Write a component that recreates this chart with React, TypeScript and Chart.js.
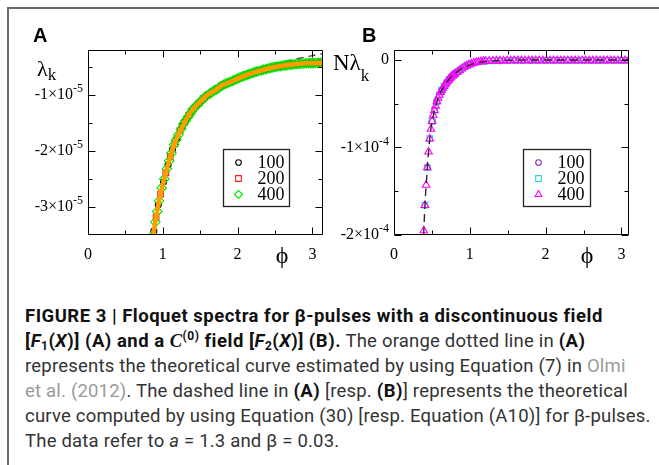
import React, { useEffect, useRef } from 'react';
import { Chart, registerables } from 'chart.js';

Chart.register(...registerables);

// ---------------- Panel A data (lambda_k in units of 1e-5) ----------------
const phiA100 = [0.88, 0.94, 1.01, 1.07, 1.13, 1.19, 1.26, 1.32, 1.38, 1.45, 1.51, 1.57, 1.63, 1.70, 1.76, 1.82, 1.88, 1.95, 2.01, 2.07, 2.14, 2.20, 2.26, 2.32, 2.39, 2.45, 2.51, 2.58, 2.64, 2.70, 2.76, 2.83, 2.89, 2.95, 3.02, 3.08, 3.14];
const lamA100 = [-3.43, -2.96, -2.55, -2.25, -1.97, -1.77, -1.56, -1.42, -1.30, -1.19, -1.11, -1.03, -0.98, -0.92, -0.86, -0.81, -0.78, -0.74, -0.70, -0.67, -0.64, -0.61, -0.58, -0.56, -0.54, -0.52, -0.50, -0.49, -0.47, -0.46, -0.455, -0.445, -0.44, -0.435, -0.433, -0.431, -0.43];

const phiA200 = [0.91, 0.97, 1.04, 1.10, 1.16, 1.23, 1.29, 1.35, 1.41, 1.48, 1.54, 1.60, 1.67, 1.73, 1.79, 1.85, 1.92, 1.98, 2.04, 2.11, 2.17, 2.23, 2.29, 2.36, 2.42, 2.48, 2.54, 2.61, 2.67, 2.73, 2.80, 2.86, 2.92, 2.98, 3.05, 3.11];
const lamA200 = [-3.18, -2.77, -2.39, -2.10, -1.87, -1.64, -1.49, -1.36, -1.25, -1.15, -1.07, -1.00, -0.94, -0.89, -0.83, -0.80, -0.76, -0.72, -0.69, -0.65, -0.62, -0.595, -0.57, -0.55, -0.53, -0.51, -0.495, -0.48, -0.465, -0.457, -0.45, -0.442, -0.437, -0.434, -0.432, -0.43];

const phiA400 = [0.87, 0.90, 0.925, 0.95, 0.985, 1.02, 1.055, 1.085, 1.115, 1.15, 1.18, 1.21, 1.245, 1.275, 1.305, 1.34, 1.37, 1.40, 1.43, 1.46, 1.49, 1.525, 1.555, 1.585, 1.62, 1.65, 1.68, 1.71, 1.745, 1.775, 1.81, 1.84, 1.87, 1.90, 1.935, 1.965, 2.0, 2.03, 2.06, 2.09, 2.125, 2.155, 2.19, 2.22, 2.25, 2.28, 2.315, 2.345, 2.38, 2.41, 2.44, 2.47, 2.505, 2.535, 2.57, 2.60, 2.63, 2.66, 2.695, 2.725, 2.76, 2.79, 2.82, 2.85, 2.885, 2.915, 2.95, 2.98, 3.01, 3.04, 3.075, 3.105, 3.14];
const lamA400 = [-3.50, -3.27, -3.08, -2.89, -2.66, -2.50, -2.32, -2.18, -2.04, -1.89, -1.80, -1.71, -1.61, -1.52, -1.46, -1.39, -1.33, -1.26, -1.22, -1.18, -1.14, -1.09, -1.05, -1.02, -0.985, -0.96, -0.93, -0.91, -0.88, -0.85, -0.82, -0.80, -0.785, -0.77, -0.75, -0.73, -0.71, -0.69, -0.675, -0.66, -0.645, -0.63, -0.615, -0.60, -0.585, -0.575, -0.565, -0.55, -0.54, -0.53, -0.52, -0.51, -0.50, -0.495, -0.49, -0.48, -0.475, -0.47, -0.465, -0.46, -0.455, -0.45, -0.446, -0.443, -0.44, -0.437, -0.435, -0.434, -0.433, -0.432, -0.431, -0.43, -0.43];

// orange dotted theoretical curve (Olmi et al. 2012)
const phiOrange = [0.87, 0.9, 0.95, 1.0, 1.05, 1.1, 1.15, 1.2, 1.3, 1.4, 1.5, 1.6, 1.7, 1.8, 1.9, 2.0, 2.2, 2.4, 2.6, 2.8, 3.0, 3.14];
const lamOrange = [-3.52, -3.27, -2.89, -2.60, -2.34, -2.11, -1.89, -1.74, -1.47, -1.26, -1.12, -1.00, -0.92, -0.825, -0.77, -0.71, -0.61, -0.535, -0.48, -0.448, -0.433, -0.43];

// dashed theoretical curve, Eq. (30)
const phiDashA = [0.87, 0.95, 1.0, 1.1, 1.2, 1.3, 1.4, 1.5, 1.6, 1.8, 2.0, 2.2, 2.4, 2.6, 2.8, 3.0, 3.14];
const lamDashA = [-3.52, -2.89, -2.60, -2.11, -1.74, -1.47, -1.26, -1.11, -0.98, -0.80, -0.68, -0.57, -0.48, -0.41, -0.355, -0.30, -0.265];

// ---------------- Panel B data (N*lambda_k in units of 1e-4) ----------------
const phiB100 = [0.440, 0.503, 0.565, 0.628, 0.691, 0.754, 0.817, 0.880, 0.942, 1.005, 1.2, 1.4, 1.6, 1.8, 2.0, 2.2, 2.4, 2.6, 2.8, 3.0];
const lamB100 = [-1.23, -0.70, -0.475, -0.345, -0.26, -0.195, -0.15, -0.11, -0.075, -0.048, -0.014, -0.008, -0.006, -0.006, -0.006, -0.006, -0.006, -0.006, -0.006, -0.006];

const phiB200 = [0.408, 0.440, 0.471, 0.503, 0.534, 0.565, 0.597, 0.628, 0.660, 0.691, 0.723, 0.754, 0.785, 0.817, 0.848, 0.880, 0.911, 0.942, 0.974, 1.005, 1.1, 1.2, 1.3, 1.4, 1.5, 1.6, 1.7, 1.8, 1.9, 2.0, 2.1, 2.2, 2.3, 2.4, 2.5, 2.6, 2.7, 2.8, 2.9, 3.0, 3.1];
const lamB200 = [-1.66, -1.23, -0.90, -0.70, -0.575, -0.475, -0.40, -0.345, -0.30, -0.26, -0.225, -0.195, -0.17, -0.15, -0.13, -0.11, -0.09, -0.075, -0.06, -0.048, -0.025, -0.014, -0.01, -0.008, -0.007, -0.006, -0.006, -0.006, -0.006, -0.006, -0.006, -0.006, -0.006, -0.006, -0.006, -0.006, -0.006, -0.006, -0.006, -0.006, -0.006];

const phiB400 = [0.393, 0.408, 0.424, 0.440, 0.456, 0.471, 0.487, 0.503, 0.518, 0.534, 0.550, 0.565, 0.581, 0.597, 0.613, 0.628, 0.644, 0.660, 0.675, 0.691, 0.707, 0.723, 0.738, 0.754, 0.770, 0.785, 0.801, 0.832, 0.864, 0.895, 0.927, 0.958, 0.990, 1.021, 1.052, 1.084, 1.115, 1.147, 1.178, 1.210, 1.257, 1.304, 1.351, 1.398, 1.445, 1.492, 1.539, 1.586, 1.634, 1.681, 1.728, 1.775, 1.822, 1.869, 1.916, 1.963, 2.011, 2.058, 2.105, 2.152, 2.199, 2.246, 2.293, 2.341, 2.388, 2.435, 2.482, 2.529, 2.576, 2.623, 2.670, 2.718, 2.765, 2.812, 2.859, 2.906, 2.953, 3.000, 3.047, 3.094];
const lamB400 = [-1.95, -1.66, -1.43, -1.23, -1.05, -0.90, -0.79, -0.70, -0.63, -0.575, -0.525, -0.475, -0.435, -0.40, -0.37, -0.345, -0.32, -0.30, -0.28, -0.26, -0.24, -0.225, -0.21, -0.195, -0.18, -0.17, -0.16, -0.14, -0.12, -0.10, -0.08, -0.065, -0.052, -0.042, -0.034, -0.027, -0.022, -0.018, -0.015, -0.013, -0.011, -0.01, -0.009, -0.008, -0.008, -0.007, -0.007, -0.006, -0.006, -0.006, -0.006, -0.006, -0.006, -0.006, -0.006, -0.006, -0.006, -0.006, -0.006, -0.006, -0.006, -0.006, -0.006, -0.006, -0.006, -0.006, -0.006, -0.006, -0.006, -0.006, -0.006, -0.006, -0.006, -0.006, -0.006, -0.006, -0.006, -0.006, -0.006, -0.006];

// dashed theoretical curve, Eq. (A10)
const phiDashB = [0.385, 0.395, 0.41, 0.425, 0.44, 0.46, 0.48, 0.50, 0.53, 0.56, 0.60, 0.65, 0.70, 0.75, 0.80, 0.90, 1.0, 1.1, 1.2, 1.4, 1.7, 2.0, 2.5, 3.1];
const lamDashB = [-2.15, -1.92, -1.63, -1.42, -1.23, -1.01, -0.83, -0.715, -0.60, -0.50, -0.395, -0.315, -0.25, -0.198, -0.16, -0.095, -0.055, -0.03, -0.017, -0.005, -0.001, 0, 0, 0];

// ---------------- axes ----------------
const xMajorTicks = [0, 1, 2, 3];
const xMinorTicks = [0.5, 1.5, 2.5];
const yMajorTicksA = [-3, -2, -1];
const yMinorTicksA = [-2.5, -1.5, -0.5];
const yMajorTicksB = [-2, -1, 0];
const yMinorTicksB = [-1.5, -0.5];
const legendLabels = ['100', '200', '400'];

const SERIF = '"Liberation Serif", "Times New Roman", "DejaVu Serif", serif';
const SANS = '"Liberation Sans", Arial, sans-serif';

const CANVAS_W = 320;
const CANVAS_H = 230;
const Y_AXIS_W = 78;

const pts = (xs: number[], ys: number[]) => xs.map((x, i) => ({ x, y: ys[i] }));

function drawMarker(ctx: CanvasRenderingContext2D, style: string, x: number, y: number, r: number, color: string) {
  ctx.save();
  ctx.strokeStyle = color;
  ctx.lineWidth = 1.1;
  ctx.beginPath();
  if (style === 'circle') {
    ctx.arc(x, y, r, 0, Math.PI * 2);
  } else if (style === 'rect') {
    const s = r * Math.SQRT1_2;
    ctx.rect(x - s, y - s, 2 * s, 2 * s);
  } else if (style === 'rectRot') {
    ctx.moveTo(x, y - r);
    ctx.lineTo(x + r, y);
    ctx.lineTo(x, y + r);
    ctx.lineTo(x - r, y);
    ctx.closePath();
  } else if (style === 'triangle') {
    for (let k = 0; k < 3; k++) {
      const a = (k * 2 * Math.PI) / 3;
      const px = x + Math.sin(a) * r;
      const py = y - Math.cos(a) * r;
      if (k === 0) ctx.moveTo(px, py);
      else ctx.lineTo(px, py);
    }
    ctx.closePath();
  }
  ctx.stroke();
  ctx.restore();
}

const frameTicksPlugin = {
  id: 'frameTicks',
  afterDatasetsDraw(chart: any) {
    const cfg = chart.options.plugins.frameTicks;
    if (!cfg) return;
    const { ctx, chartArea } = chart;
    const { left, right, top, bottom } = chartArea;
    const xs = chart.scales.x;
    const ys = chart.scales.y;
    ctx.save();
    ctx.strokeStyle = '#000';
    ctx.lineWidth = 1;
    ctx.beginPath();
    const L = Math.round(left) + 0.5;
    const R = Math.round(right) - 0.5;
    const T = Math.round(top) + 0.5;
    const B = Math.round(bottom) - 0.5;
    ctx.rect(L, T, R - L, B - T);
    const tick = (vals: number[], len: number, axis: 'x' | 'y') => {
      vals.forEach((v) => {
        if (axis === 'x') {
          const p = Math.round(xs.getPixelForValue(v)) + 0.5;
          ctx.moveTo(p, B); ctx.lineTo(p, B - len);
          ctx.moveTo(p, T); ctx.lineTo(p, T + len);
        } else {
          const p = Math.round(ys.getPixelForValue(v)) + 0.5;
          ctx.moveTo(L, p); ctx.lineTo(L + len, p);
          ctx.moveTo(R, p); ctx.lineTo(R - len, p);
        }
      });
    };
    tick(cfg.xMajor, 7, 'x');
    tick(cfg.xMinor, 4, 'x');
    tick(cfg.yMajor, 7, 'y');
    tick(cfg.yMinor, 4, 'y');
    ctx.stroke();

    // y tick labels with a real superscript exponent, placed by the y scale
    ctx.fillStyle = '#000';
    ctx.textBaseline = 'middle';
    const labelRight = left - 5;
    ys.ticks.forEach((t: any) => {
      const py = ys.getPixelForValue(t.value);
      if (t.value === 0) {
        ctx.font = `16px ${SERIF}`;
        ctx.textAlign = 'right';
        ctx.fillText('0', labelRight, py);
        return;
      }
      ctx.font = `12px ${SERIF}`;
      const ew = ctx.measureText(cfg.exp).width;
      ctx.textAlign = 'left';
      ctx.fillText(cfg.exp, labelRight - ew, py - 6);
      ctx.font = `16px ${SERIF}`;
      ctx.textAlign = 'right';
      ctx.fillText(`${t.value}×10`, labelRight - ew, py);
    });

    // legend box
    const lg = cfg.legend;
    const bx = Math.round(left + lg.dx) + 0.5;
    const by = Math.round(top + lg.dy) + 0.5;
    ctx.fillStyle = '#fff';
    ctx.fillRect(bx, by, lg.w, lg.h);
    ctx.strokeStyle = '#222';
    ctx.lineWidth = 1.3;
    ctx.strokeRect(bx, by, lg.w, lg.h);
    const marks = chart.data.datasets
      .filter((d: any) => d.pointRadius > 0)
      .sort((a: any, b: any) => Number(a.label) - Number(b.label));
    ctx.font = `18px ${SERIF}`;
    ctx.fillStyle = '#000';
    ctx.textBaseline = 'middle';
    ctx.textAlign = 'left';
    marks.forEach((d: any, i: number) => {
      const cy = by + 13 + i * 16;
      drawMarker(ctx, d.pointStyle, bx + 15, cy, d.pointStyle === 'circle' ? 2.8 : 4, d.borderColor);
      ctx.fillText(d.label, bx + 34, cy + 1);
    });
    ctx.restore();
  },
};

type PanelCfg = {
  datasets: any[];
  xMax: number;
  yMin: number;
  yMax: number;
  yMajor: number[];
  yMinor: number[];
  exp: string;
  legend: { dx: number; dy: number; w: number; h: number };
};

function buildConfig(p: PanelCfg): any {
  return {
    type: 'scatter',
    data: { datasets: p.datasets },
    plugins: [frameTicksPlugin],
    options: {
      responsive: false,
      animation: false,
      events: [],
      layout: { padding: { top: 10, right: 7, left: 0, bottom: 0 } },
      plugins: {
        legend: { display: false },
        tooltip: { enabled: false },
        frameTicks: {
          xMajor: xMajorTicks,
          xMinor: xMinorTicks,
          yMajor: p.yMajor,
          yMinor: p.yMinor,
          exp: p.exp,
          legend: p.legend,
        },
      },
      scales: {
        x: {
          type: 'linear',
          min: 0,
          max: p.xMax,
          grid: { display: false },
          border: { display: false },
          afterBuildTicks: (s: any) => {
            s.ticks = xMajorTicks.map((v) => ({ value: v }));
          },
          afterFit: (s: any) => {
            s.height = 35;
          },
          ticks: {
            autoSkip: false,
            maxRotation: 0,
            padding: 2,
            color: '#000',
            font: { family: SERIF, size: 16 },
            callback: (v: number) => String(v),
          },
        },
        y: {
          type: 'linear',
          min: p.yMin,
          max: p.yMax,
          grid: { display: false },
          border: { display: false },
          afterBuildTicks: (s: any) => {
            s.ticks = p.yMajor.map((v) => ({ value: v }));
          },
          afterFit: (s: any) => {
            s.width = Y_AXIS_W;
          },
          ticks: {
            display: false,
            autoSkip: false,
          },
        },
      },
    },
  };
}

const markerDs = (label: string, xs: number[], ys: number[], style: string, color: string, r: number, order: number) => ({
  label,
  data: pts(xs, ys),
  pointStyle: style,
  pointRadius: r,
  borderColor: color,
  backgroundColor: 'rgba(0,0,0,0)',
  pointBorderWidth: 1.1,
  showLine: false,
  order,
});

const lineDs = (label: string, xs: number[], ys: number[], color: string, width: number, dash: number[], order: number) => ({
  label,
  data: pts(xs, ys),
  showLine: true,
  pointRadius: 0,
  borderColor: color,
  borderWidth: width,
  borderDash: dash,
  cubicInterpolationMode: 'monotone',
  fill: false,
  order,
});

const panelA: PanelCfg = {
  datasets: [
    lineDs('theory (Olmi et al.)', phiOrange, lamOrange, '#ff9c00', 4.5, [], 0),
    markerDs(legendLabels[2], phiA400, lamA400, 'rectRot', '#00e400', 4.8, 1),
    markerDs(legendLabels[1], phiA200, lamA200, 'rect', '#ff1a1a', 4, 2),
    markerDs(legendLabels[0], phiA100, lamA100, 'circle', '#000000', 3, 3),
    lineDs('Eq. (30)', phiDashA, lamDashA, '#6a2a4e', 1.4, [7, 5], 4),
  ],
  xMax: Math.PI,
  yMin: -3.5,
  yMax: -0.2,
  yMajor: yMajorTicksA,
  yMinor: yMinorTicksA,
  exp: '-5',
  legend: { dx: 135, dy: 99, w: 66, h: 57 },
};

const panelB: PanelCfg = {
  datasets: [
    lineDs('Eq. (A10)', phiDashB, lamDashB, '#3a1a2a', 1.4, [8, 5], 0),
    markerDs(legendLabels[2], phiB400, lamB400, 'triangle', '#ff00ff', 4.4, 1),
    markerDs(legendLabels[1], phiB200, lamB200, 'rect', '#33d6cc', 4, 2),
    markerDs(legendLabels[0], phiB100, lamB100, 'circle', '#7a2fc0', 3, 3),
  ],
  xMax: 3.1,
  yMin: -2,
  yMax: 0.114,
  yMajor: yMajorTicksB,
  yMinor: yMinorTicksB,
  exp: '-4',
  legend: { dx: 129, dy: 99, w: 67, h: 57 },
};

function PanelChart({ left, top, cfg }: { left: number; top: number; cfg: PanelCfg }) {
  const ref = useRef<HTMLCanvasElement>(null);
  useEffect(() => {
    const chart = new Chart(ref.current as HTMLCanvasElement, buildConfig(cfg));
    return () => chart.destroy();
  }, [cfg]);
  return (
    <canvas
      ref={ref}
      width={CANVAS_W}
      height={CANVAS_H}
      style={{ position: 'absolute', left, top, width: CANVAS_W, height: CANVAS_H }}
    />
  );
}

const abs = (s: React.CSSProperties): React.CSSProperties => ({ position: 'absolute', whiteSpace: 'nowrap', ...s });
const subS: React.CSSProperties = { fontSize: 12, lineHeight: 0, verticalAlign: '-3px' };
const supS: React.CSSProperties = { fontSize: 12, lineHeight: 0, verticalAlign: '7px' };
const grey: React.CSSProperties = { color: '#9a9a9a' };
const boldS: React.CSSProperties = { color: '#111', letterSpacing: '0.5px' };

export default function App() {
  return (
    <div style={{ position: 'fixed', inset: 0, overflow: 'hidden', background: '#fff' }}>
      <div style={abs({ left: 7, top: 7, width: 700, height: 500, borderTop: '2px solid #6a6a6a', borderLeft: '2px solid #6a6a6a' })} />

      <PanelChart left={10} top={40} cfg={panelA} />
      <PanelChart left={316} top={40} cfg={panelB} />

      <div style={abs({ left: 33, top: 25, fontFamily: SANS, fontWeight: 'bold', fontSize: 20, lineHeight: '20px' })}>A</div>
      <div style={abs({ left: 362, top: 25, fontFamily: SANS, fontWeight: 'bold', fontSize: 20, lineHeight: '20px' })}>B</div>

      <div style={abs({ left: 37, top: 58, fontFamily: SERIF, fontSize: 22, lineHeight: '22px' })}>
        λ<span style={{ fontSize: 17, position: 'relative', top: 4 }}>k</span>
      </div>
      <div style={abs({ left: 333, top: 51, fontFamily: SERIF, fontSize: 23, lineHeight: '23px' })}>
        Nλ<span style={{ fontSize: 17, position: 'relative', top: 11 }}>k</span>
      </div>

      <div style={abs({ left: 262, top: 243, width: 40, textAlign: 'center', fontFamily: SERIF, fontSize: 24, lineHeight: '24px' })}>ϕ</div>
      <div style={abs({ left: 567, top: 243, width: 40, textAlign: 'center', fontFamily: SERIF, fontSize: 24, lineHeight: '24px' })}>ϕ</div>

      <div style={abs({ left: 25, top: 304, fontFamily: 'Roboto, "Liberation Sans", sans-serif', fontSize: 18.5, lineHeight: '25px', color: '#333', letterSpacing: '0.2px' })}>
        <div style={{ fontWeight: 'bold', ...boldS }}>FIGURE 3 | Floquet spectra for β-pulses with a discontinuous field</div>
        <div>
          <b style={boldS}>
            [<i>F</i><span style={subS}>1</span>(<i>X</i>)] (A) and a <i style={{ fontFamily: SERIF }}>C</i><span style={supS}>(0)</span> field [<i>F</i><span style={subS}>2</span>(<i>X</i>)] (B).
          </b>{' '}
          The orange dotted line in <b style={boldS}>(A)</b>
        </div>
        <div>
          represents the theoretical curve estimated by using Equation (7) in <span style={grey}>Olmi</span>
        </div>
        <div>
          <span style={grey}>et al. (2012)</span>. The dashed line in <b style={boldS}>(A)</b> [resp. <b style={boldS}>(B)</b>] represents the theoretical
        </div>
        <div>curve computed by using Equation (30) [resp. Equation (A10)] for β-pulses.</div>
        <div>
          The data refer to <i>a</i> = 1.3 and β = 0.03.
        </div>
      </div>
    </div>
  );
}
